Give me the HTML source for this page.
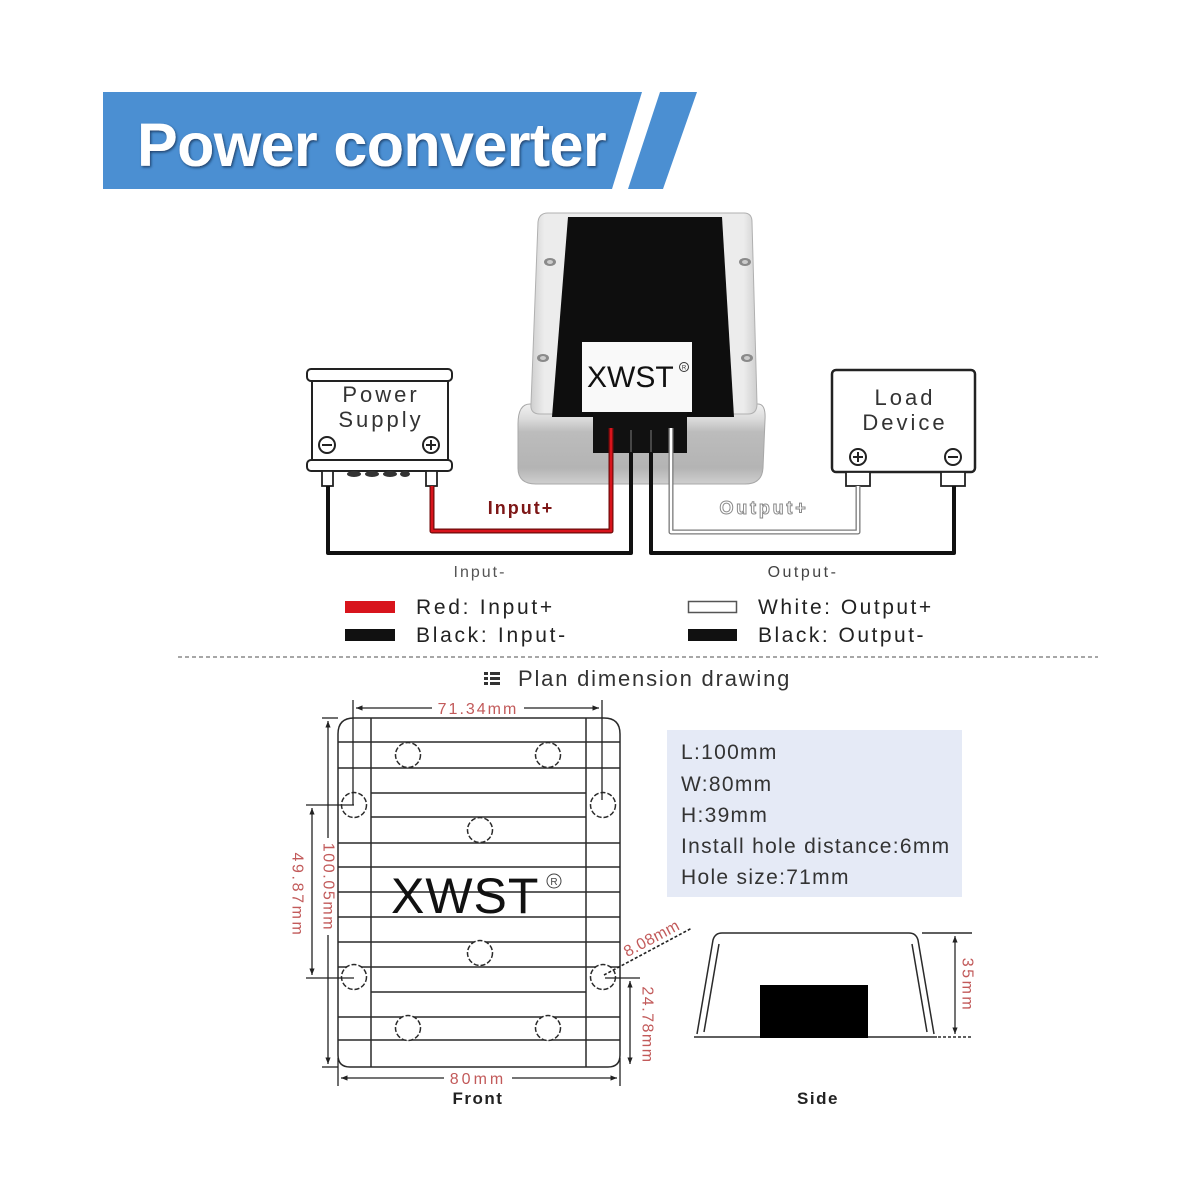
<!DOCTYPE html>
<html><head><meta charset="utf-8"><style>
html,body{margin:0;padding:0;background:#fff;}
svg{display:block;}
text{font-family:"Liberation Sans",Arial,sans-serif;}
</style></head><body>
<svg width="1200" height="1200" viewBox="0 0 1200 1200" xmlns="http://www.w3.org/2000/svg">
<defs>
<filter id="ts" x="-5%" y="-20%" width="110%" height="140%"><feDropShadow dx="1.2" dy="1.5" stdDeviation="1.2" flood-color="#0d2a4a" flood-opacity="0.75"/></filter>
<linearGradient id="front" x1="0" y1="0" x2="0" y2="1">
<stop offset="0" stop-color="#f2f2f2"/><stop offset="0.18" stop-color="#dcdcdc"/><stop offset="0.35" stop-color="#bcbcbc"/><stop offset="0.8" stop-color="#b4b4b4"/><stop offset="1" stop-color="#cfcfcf"/></linearGradient>
<linearGradient id="topf" x1="0" y1="0" x2="1" y2="0">
<stop offset="0" stop-color="#cfcfcf"/><stop offset="0.06" stop-color="#ececec"/><stop offset="0.94" stop-color="#ececec"/><stop offset="1" stop-color="#cfcfcf"/></linearGradient>
<marker id="ar" viewBox="0 0 10 10" refX="10" refY="5" markerWidth="5" markerHeight="5" orient="auto-start-reverse"><path d="M0,1 L10,5 L0,9 z" fill="#222"/></marker>
</defs>

<!-- Title banner -->
<polygon points="103,92 642,92 612,189 103,189" fill="#4b8fd2"/>
<polygon points="660,92 697,92 663,189 628,189" fill="#4b8fd2"/>
<text x="137" y="166" font-size="61" font-weight="bold" fill="#fff" letter-spacing="-0.6" filter="url(#ts)">Power converter</text>

<!-- Converter box -->
<path d="M530,404 L758,404 Q766,404 765,420 L763,468 Q762,484 745,484 L536,484 Q518,484 518,468 L518,424 Q518,404 530,404 Z" fill="url(#front)" stroke="#a8a8a8" stroke-width="1"/>
<path d="M548,213 L744,213 Q752,213 752,222 L757,404 Q757,414 748,414 L540,414 Q530,414 531,404 L538,222 Q539,213 548,213 Z" fill="url(#topf)" stroke="#b0b0b0" stroke-width="1"/>
<polygon points="568,217 722,217 734,417 552,417" fill="#0e0e0e"/>
<rect x="582" y="342" width="110" height="70" fill="#f9f9f9"/>
<text x="587" y="387" font-size="30" fill="#111">XWST</text>
<circle cx="684" cy="367" r="4.5" fill="none" stroke="#333" stroke-width="1"/>
<text x="684" y="369.5" font-size="6" text-anchor="middle" fill="#333">R</text>
<ellipse cx="550" cy="262" rx="6" ry="4" fill="#8a8a8a"/><ellipse cx="550" cy="262" rx="3" ry="2" fill="#ccc"/>
<ellipse cx="543" cy="358" rx="6" ry="4" fill="#8a8a8a"/><ellipse cx="543" cy="358" rx="3" ry="2" fill="#ccc"/>
<ellipse cx="745" cy="262" rx="6" ry="4" fill="#8a8a8a"/><ellipse cx="745" cy="262" rx="3" ry="2" fill="#ccc"/>
<ellipse cx="747" cy="358" rx="6" ry="4" fill="#8a8a8a"/><ellipse cx="747" cy="358" rx="3" ry="2" fill="#ccc"/>
<rect x="593" y="412" width="94" height="41" fill="#111"/>

<!-- Power supply -->
<rect x="307" y="369" width="145" height="12" rx="4" fill="#fff" stroke="#222" stroke-width="2"/>
<rect x="312" y="381" width="136" height="79" fill="#fff" stroke="#222" stroke-width="2"/>
<rect x="307" y="460" width="145" height="11" rx="4" fill="#fff" stroke="#222" stroke-width="2"/>
<rect x="322" y="471" width="11" height="15" fill="#fff" stroke="#222" stroke-width="1.8"/>
<rect x="426" y="471" width="11" height="15" fill="#fff" stroke="#222" stroke-width="1.8"/>
<ellipse cx="354" cy="474" rx="7" ry="3" fill="#333"/>
<ellipse cx="372" cy="474" rx="7" ry="3" fill="#333"/>
<ellipse cx="390" cy="474" rx="7" ry="3" fill="#333"/>
<ellipse cx="405" cy="474" rx="5" ry="3" fill="#333"/>
<text x="381" y="402" font-size="22" fill="#333" text-anchor="middle" letter-spacing="3">Power</text>
<text x="381" y="427" font-size="22" fill="#333" text-anchor="middle" letter-spacing="3">Supply</text>
<circle cx="327" cy="445" r="8" fill="#fff" stroke="#222" stroke-width="2"/><line x1="322" y1="445" x2="332" y2="445" stroke="#222" stroke-width="2"/>
<circle cx="431" cy="445" r="8" fill="#fff" stroke="#222" stroke-width="2"/><line x1="426" y1="445" x2="436" y2="445" stroke="#222" stroke-width="2"/><line x1="431" y1="440" x2="431" y2="450" stroke="#222" stroke-width="2"/>

<!-- Load device -->
<rect x="832" y="370" width="143" height="102" rx="4" fill="#fff" stroke="#222" stroke-width="2.5"/>
<rect x="846" y="472" width="24" height="14" fill="#fff" stroke="#222" stroke-width="1.8"/>
<rect x="941" y="472" width="24" height="14" fill="#fff" stroke="#222" stroke-width="1.8"/>
<text x="905" y="405" font-size="22" fill="#333" text-anchor="middle" letter-spacing="3">Load</text>
<text x="905" y="430" font-size="22" fill="#333" text-anchor="middle" letter-spacing="3">Device</text>
<circle cx="858" cy="457" r="8" fill="#fff" stroke="#222" stroke-width="2"/><line x1="853" y1="457" x2="863" y2="457" stroke="#222" stroke-width="2"/><line x1="858" y1="452" x2="858" y2="462" stroke="#222" stroke-width="2"/>
<circle cx="953" cy="457" r="8" fill="#fff" stroke="#222" stroke-width="2"/><line x1="948" y1="457" x2="958" y2="457" stroke="#222" stroke-width="2"/>

<!-- Wires -->
<path d="M328,486 V553 H631 V428" fill="none" stroke="#111" stroke-width="4" stroke-linejoin="round"/>
<path d="M651,428 V553 H954 V486" fill="none" stroke="#111" stroke-width="4" stroke-linejoin="round"/>
<path d="M432,486 V531 H611 V428" fill="none" stroke="#6e0a0a" stroke-width="5" stroke-linejoin="round"/>
<path d="M432,486 V531 H611 V428" fill="none" stroke="#d8141c" stroke-width="2.6" stroke-linejoin="round"/>
<path d="M671,428 V532 H858 V486" fill="none" stroke="#7a7a7a" stroke-width="5" stroke-linejoin="round"/>
<path d="M671,428 V532 H858 V486" fill="none" stroke="#fff" stroke-width="2.4" stroke-linejoin="round"/>
<line x1="631" y1="430" x2="631" y2="452" stroke="#6a6a6a" stroke-width="1.2"/>
<line x1="651" y1="430" x2="651" y2="452" stroke="#6a6a6a" stroke-width="1.2"/>

<text x="521" y="514" font-size="18" font-weight="bold" fill="#7d1616" text-anchor="middle" letter-spacing="2">Input+</text>
<text x="480" y="577" font-size="16" fill="#555" text-anchor="middle" letter-spacing="2">Input-</text>
<text x="764" y="514" font-size="18" font-weight="bold" fill="#fff" stroke="#8a8a8a" stroke-width="1" text-anchor="middle" letter-spacing="2.8">Output+</text>
<text x="803" y="577" font-size="16" fill="#444" text-anchor="middle" letter-spacing="2.5">Output-</text>

<!-- Legend -->
<rect x="345" y="601" width="50" height="12" fill="#d8141c"/>
<rect x="345" y="629" width="50" height="12" fill="#111"/>
<rect x="688.5" y="601.5" width="48" height="11" fill="#fff" stroke="#555" stroke-width="1.5"/>
<rect x="688" y="629" width="49" height="12" fill="#111"/>
<text x="416" y="614" font-size="21" fill="#222" letter-spacing="2.7">Red: Input+</text>
<text x="416" y="642" font-size="21" fill="#222" letter-spacing="2.7">Black: Input-</text>
<text x="758" y="614" font-size="21" fill="#222" letter-spacing="2.5">White: Output+</text>
<text x="758" y="642" font-size="21" fill="#222" letter-spacing="2.5">Black: Output-</text>

<line x1="178" y1="657" x2="1098" y2="657" stroke="#8a8a8a" stroke-width="1.5" stroke-dasharray="4 3"/>

<!-- Plan icon + title -->
<rect x="484" y="672" width="4" height="3" fill="#333"/><rect x="490" y="672" width="10" height="3" fill="#333"/>
<rect x="484" y="677" width="4" height="3" fill="#333"/><rect x="490" y="677" width="10" height="3" fill="#333"/>
<rect x="484" y="682" width="4" height="3" fill="#333"/><rect x="490" y="682" width="10" height="3" fill="#333"/>
<text x="518" y="686" font-size="22" fill="#333" letter-spacing="1.8">Plan dimension drawing</text>

<!-- Front drawing -->
<g fill="none" stroke="#2a2a2a" stroke-width="1.5">
<path d="M338,1055 V734 Q338,718 354,718 H604 Q620,718 620,734 V1055 Q620,1067 608,1067 H350 Q338,1067 338,1055 Z"/>
<line x1="371" y1="718" x2="371" y2="1067"/>
<line x1="586" y1="718" x2="586" y2="1067"/>
<line x1="338" y1="742" x2="620" y2="742"/>
<line x1="338" y1="768" x2="620" y2="768"/>
<line x1="371" y1="793" x2="586" y2="793"/>
<line x1="371" y1="817" x2="586" y2="817"/>
<line x1="338" y1="843" x2="620" y2="843"/>
<line x1="338" y1="867" x2="620" y2="867"/>
<line x1="338" y1="892" x2="620" y2="892"/>
<line x1="338" y1="917" x2="620" y2="917"/>
<line x1="338" y1="942" x2="620" y2="942"/>
<line x1="338" y1="967" x2="620" y2="967"/>
<line x1="371" y1="992" x2="586" y2="992"/>
<line x1="338" y1="1017" x2="620" y2="1017"/>
<line x1="338" y1="1040" x2="620" y2="1040"/>
</g>
<g fill="#fff" stroke="#2a2a2a" stroke-width="1.5" stroke-dasharray="5 2">
<circle cx="408" cy="755" r="12.5"/><circle cx="548" cy="755" r="12.5"/>
<circle cx="354" cy="805" r="12.5"/><circle cx="603" cy="805" r="12.5"/>
<circle cx="480" cy="830" r="12.5"/><circle cx="480" cy="953" r="12.5"/>
<circle cx="354" cy="977" r="12.5"/><circle cx="603" cy="977" r="12.5"/>
<circle cx="408" cy="1028" r="12.5"/><circle cx="548" cy="1028" r="12.5"/>
</g>
<rect x="386" y="872" width="160" height="46" fill="#fff" opacity="0"/>
<text x="391" y="913" font-size="50" fill="#111" letter-spacing="1">XWST</text>
<circle cx="554" cy="881" r="7" fill="#fff" stroke="#444" stroke-width="1"/>
<text x="554" y="885" font-size="10" fill="#444" text-anchor="middle">R</text>

<!-- Dimension lines (front) -->
<g stroke="#222" stroke-width="1.3" fill="none">
<line x1="353" y1="700" x2="353" y2="805"/>
<line x1="602" y1="700" x2="602" y2="800"/>
<line x1="432" y1="708" x2="356" y2="708" marker-end="url(#ar)"/>
<line x1="524" y1="708" x2="599" y2="708" marker-end="url(#ar)"/>
<line x1="322" y1="718" x2="338" y2="718"/>
<line x1="322" y1="1067" x2="338" y2="1067"/>
<line x1="328" y1="838" x2="328" y2="721" marker-end="url(#ar)"/>
<line x1="328" y1="935" x2="328" y2="1064" marker-end="url(#ar)"/>
<line x1="306" y1="805" x2="354" y2="805"/>
<line x1="306" y1="978" x2="354" y2="978"/>
<line x1="312" y1="892" x2="312" y2="808" marker-end="url(#ar)"/>
<line x1="312" y1="892" x2="312" y2="975" marker-end="url(#ar)"/>
<line x1="605" y1="978" x2="640" y2="978"/>
<line x1="630" y1="1025" x2="630" y2="981" marker-end="url(#ar)"/>
<line x1="630" y1="1025" x2="630" y2="1064" marker-end="url(#ar)"/>
<line x1="338" y1="1058" x2="338" y2="1086"/>
<line x1="620" y1="1058" x2="620" y2="1086"/>
<line x1="444" y1="1078" x2="341" y2="1078" marker-end="url(#ar)"/>
<line x1="512" y1="1078" x2="617" y2="1078" marker-end="url(#ar)"/>
<line x1="604" y1="975" x2="692" y2="928" stroke-dasharray="3 2" stroke-width="1.6"/>
</g>
<g font-size="16" fill="#c25a5a">
<text x="478" y="714" text-anchor="middle" letter-spacing="2">71.34mm</text>
<text x="478" y="1084" text-anchor="middle" letter-spacing="3">80mm</text>
<text x="328" y="887" text-anchor="middle" dominant-baseline="central" letter-spacing="1.6" transform="rotate(90 328 887)">100.05mm</text>
<text x="297" y="895" text-anchor="middle" dominant-baseline="central" letter-spacing="2.6" transform="rotate(90 297 895)">49.87mm</text>
<text x="647" y="1025" text-anchor="middle" dominant-baseline="central" letter-spacing="1.5" transform="rotate(90 647 1025)">24.78mm</text>
<text x="652" y="939" text-anchor="middle" dominant-baseline="central" letter-spacing="0.5" transform="rotate(-28 652 939)">8.08mm</text>
<text x="967" y="985" text-anchor="middle" dominant-baseline="central" letter-spacing="2.5" transform="rotate(90 967 985)">35mm</text>
</g>
<text x="478" y="1104" font-size="17" font-weight="bold" fill="#222" text-anchor="middle" letter-spacing="1.5">Front</text>

<!-- Info box -->
<rect x="667" y="730" width="295" height="167" fill="#e5eaf6"/>
<g font-size="21" fill="#333" letter-spacing="1.3">
<text x="681" y="759">L:100mm</text>
<text x="681" y="791">W:80mm</text>
<text x="681" y="822">H:39mm</text>
<text x="681" y="853">Install hole distance:6mm</text>
<text x="681" y="884">Hole size:71mm</text>
</g>

<!-- Side view -->
<g fill="none" stroke="#2a2a2a" stroke-width="1.5">
<path d="M697,1034 L713,940 Q715,933 722,933 H909 Q916,933 918,940 L934,1034"/>
<path d="M704,1032 L719,944"/>
<path d="M927,1032 L912,944"/>
<line x1="694" y1="1037" x2="762" y2="1037"/>
<line x1="866" y1="1037" x2="937" y2="1037"/>
<line x1="922" y1="933" x2="972" y2="933"/>
<line x1="938" y1="1037" x2="972" y2="1037" stroke-dasharray="3 2"/>
<line x1="955" y1="985" x2="955" y2="936" marker-end="url(#ar)" stroke-width="1.3"/>
<line x1="955" y1="985" x2="955" y2="1034" marker-end="url(#ar)" stroke-width="1.3"/>
</g>
<rect x="760" y="985" width="108" height="53" fill="#000"/>
<text x="818" y="1104" font-size="17" font-weight="bold" fill="#222" text-anchor="middle" letter-spacing="1.5">Side</text>
</svg>
</body></html>
